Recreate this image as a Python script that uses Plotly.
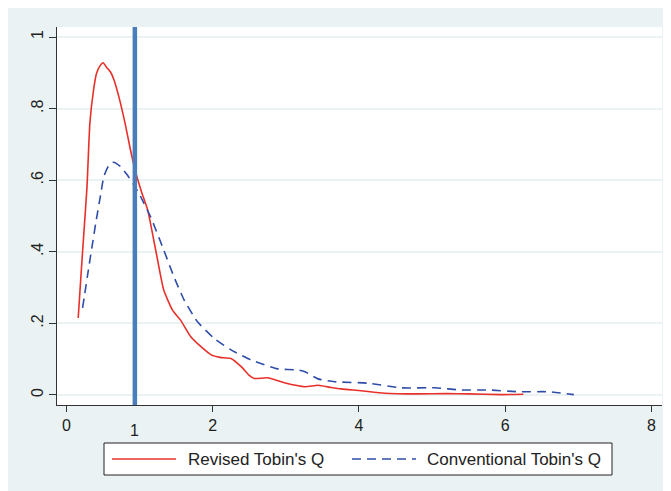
import plotly.graph_objects as go

# Revised Tobin's Q density (red, solid)
rev_x = [0.16, 0.2, 0.24, 0.28, 0.32, 0.37, 0.41, 0.46, 0.5, 0.55, 0.6, 0.65, 0.72, 0.8, 0.87, 0.93,
         0.97, 1.03, 1.11, 1.22, 1.33, 1.45, 1.56, 1.7, 1.84, 1.98, 2.1, 2.25, 2.39, 2.5, 2.57, 2.75,
         2.98, 3.26, 3.44, 3.62, 3.76, 4.03, 4.35, 4.81, 5.2, 5.5, 5.95, 6.25]
rev_y = [0.215, 0.34, 0.46, 0.58, 0.76, 0.852, 0.898, 0.92, 0.928, 0.915, 0.903, 0.88, 0.83, 0.76, 0.69, 0.635,
         0.605, 0.565, 0.517, 0.405, 0.293, 0.237, 0.209, 0.163, 0.135, 0.112, 0.105, 0.102, 0.079, 0.055, 0.046,
         0.048, 0.034, 0.023, 0.027, 0.021, 0.017, 0.012, 0.005, 0.003, 0.004, 0.003, 0.001, 0.002]

# Conventional Tobin's Q density (blue, dashed)
conv_x = [0.22, 0.3, 0.4, 0.47, 0.51, 0.58, 0.64, 0.74, 0.83, 0.92, 1.0, 1.06, 1.15, 1.33, 1.47, 1.61,
          1.79, 2.02, 2.25, 2.52, 2.89, 3.16, 3.26, 3.44, 3.67, 4.12, 4.58, 5.04, 5.4, 5.77, 6.18,
          6.59, 6.94]
conv_y = [0.243, 0.35, 0.48, 0.563, 0.61, 0.642, 0.65, 0.638, 0.615, 0.587, 0.56, 0.535, 0.498, 0.405, 0.33,
          0.265, 0.205, 0.158, 0.126, 0.098, 0.073, 0.07, 0.065, 0.045, 0.037, 0.033, 0.02, 0.02, 0.014, 0.014,
          0.009, 0.009, 0.001]

x_ticks = [0, 2, 4, 6, 8]
y_ticks = [0, 0.2, 0.4, 0.6, 0.8, 1]
y_labels = ["0", ".2", ".4", ".6", ".8", "1"]
xline_pos = 0.935      # where the reference line is drawn in the picture
xline_label = "1"      # its label
series_names = ["Revised Tobin's Q", "Conventional Tobin's Q"]
series_colors = ["#E8302A", "#2F4DA8"]

FONT = "Liberation Sans, Arial, sans-serif"
BG = "#EAF2F3"
TXT = "#222222"

# figure size (page body adds an 8px margin) and plot-area geometry in figure pixels
W, H = 663, 483
L, R, T, B = 49, 9, 19, 86
PW, PH = W - L - R, H - T - B
OFF = 8  # page offset of the figure


def px(xp):
    """page x pixel -> paper coordinate"""
    return (xp - OFF - L) / PW


def py(yp):
    """page y pixel -> paper coordinate"""
    return (H - B - (yp - OFF)) / PH


fig = go.Figure()
fig.add_trace(go.Scatter(x=rev_x, y=rev_y, mode="lines", name=series_names[0], showlegend=False,
                         line=dict(color=series_colors[0], width=1.6, shape="spline", smoothing=0.5)))
fig.add_trace(go.Scatter(x=conv_x, y=conv_y, mode="lines", name=series_names[1], showlegend=False,
                         line=dict(color=series_colors[1], width=1.6, dash="9px,6px",
                                   shape="spline", smoothing=0.5)))

# vertical reference line
fig.add_shape(type="line", xref="x", yref="paper", x0=xline_pos, x1=xline_pos, y0=0, y1=1,
              line=dict(color="#4A7EBB", width=4.5))
fig.add_annotation(x=xline_pos, xref="x", y=py(420), yref="paper", yanchor="top",
                   text=xline_label, showarrow=False, font=dict(family=FONT, size=16, color=TXT))

# legend box (Stata style, long key lines)
fig.add_shape(type="rect", xref="paper", yref="paper", x0=px(104), x1=px(612), y0=py(475), y1=py(443),
              fillcolor="white", line=dict(color=TXT, width=1), layer="above")
leg_y = py(459)
fig.add_shape(type="line", xref="paper", yref="paper", x0=px(112), x1=px(176), y0=leg_y, y1=leg_y,
              line=dict(color=series_colors[0], width=1.6), layer="above")
fig.add_shape(type="line", xref="paper", yref="paper", x0=px(352), x1=px(416), y0=leg_y, y1=leg_y,
              line=dict(color=series_colors[1], width=1.6, dash="9px,6px"), layer="above")
fig.add_annotation(x=px(186), xref="paper", y=leg_y, yref="paper", xanchor="left", yanchor="middle",
                   text=series_names[0], showarrow=False, font=dict(family=FONT, size=17, color=TXT))
fig.add_annotation(x=px(425), xref="paper", y=leg_y, yref="paper", xanchor="left", yanchor="middle",
                   text=series_names[1], showarrow=False, font=dict(family=FONT, size=17, color=TXT))

fig.update_layout(
    width=W, height=H,
    margin=dict(l=L, r=R, t=T, b=B, autoexpand=False),
    paper_bgcolor=BG, plot_bgcolor="white",
    font=dict(family=FONT, size=16, color=TXT),
    showlegend=False,
    xaxis=dict(range=[-0.13, 8.146], tickvals=x_ticks, ticks="outside", ticklen=6,
               tickcolor="#333", showline=True, linecolor="#333", linewidth=1,
               showgrid=False, zeroline=False, automargin=False),
    yaxis=dict(range=[-0.028, 1.028], tickvals=y_ticks, ticktext=y_labels, ticks="outside",
               ticklen=7, tickcolor="#333", tickangle=-90, showline=True, linecolor="#333",
               linewidth=1, showgrid=True, gridcolor=BG, gridwidth=1.5, zeroline=False,
               automargin=False),
)

fig.write_html("out.html")
